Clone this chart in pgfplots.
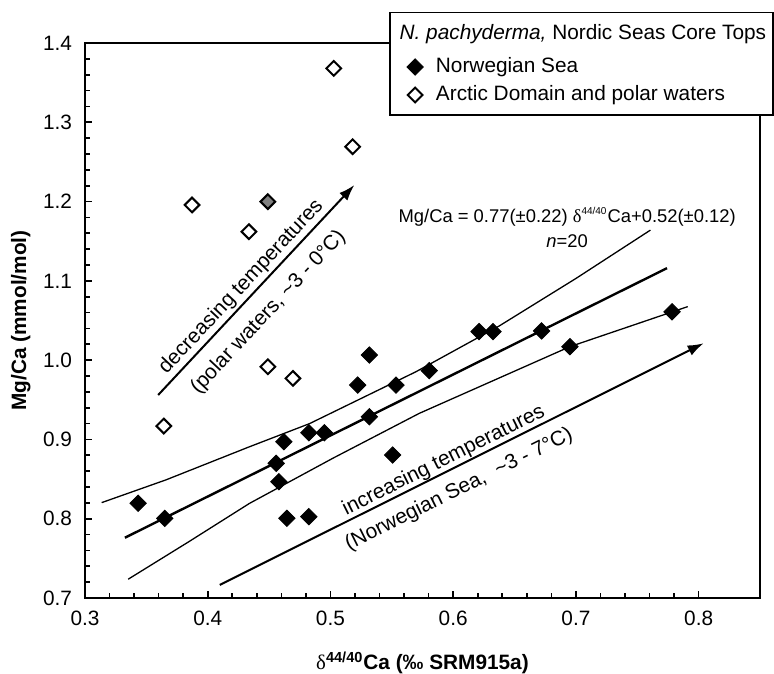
\documentclass[border=0pt]{standalone}
\usepackage{pgfplots}
\pgfplotsset{compat=1.18}
\usepackage{fontspec}
\setmainfont{Liberation Sans}
\newfontfamily\greekfont{Liberation Serif}
\usetikzlibrary{arrows.meta}

\newcommand{\fs}{\fontsize{10.4}{12.5}\selectfont}
\newcommand{\fsleg}{\fontsize{10.4}{12.5}\selectfont}
\newcommand{\fseq}{\fontsize{9.2}{11}\selectfont}

\pgfplotsset{
  diamleg/.style={legend image code/.code={%
      \draw[##1] plot coordinates {(0pt,0pt)};}},
}

\begin{document}
\begin{tikzpicture}
\path[use as bounding box] (-42.5pt,-37.5pt) rectangle (344.5pt,299pt);
\begin{axis}[
  scale only axis,
  width=337.5pt, height=277.5pt,
  xmin=0.3, xmax=0.85, ymin=0.7, ymax=1.4,
  xtick={0.3,0.4,0.5,0.6,0.7,0.8},
  ytick={0.7,0.8,0.9,1.0,1.1,1.2,1.3,1.4},
  minor x tick num=4, minor y tick num=4,
  xtick pos=left, ytick pos=left, tick align=inside,
  major tick length=3.5pt, minor tick length=2.5pt,
  every tick/.style={black, line width=0.8pt},
  axis line style={line width=1pt},
  axis on top=false,
  /pgf/number format/assume math mode=true,
  xticklabel style={/pgf/number format/fixed, /pgf/number format/fixed zerofill,
    /pgf/number format/precision=1, font=\fs, yshift=-3pt},
  yticklabel style={/pgf/number format/fixed, /pgf/number format/fixed zerofill,
    /pgf/number format/precision=1, font=\fs, xshift=-3pt},
  xlabel={{\mdseries\greekfont δ}\textsuperscript{44/40}Ca (‰ SRM915a)},
  ylabel={Mg/Ca (mmol/mol)},
  xlabel style={at={(axis description cs:0.5,-0.117)}, anchor=center, font=\fs\bfseries},
  ylabel style={at={(axis description cs:-0.095,0.5)}, anchor=center, font=\fs\bfseries},
  legend style={at={(axis description cs:0.4764,0.9315)}, anchor=west,
    draw=none, fill=none, font=\fsleg, inner sep=0pt,
    row sep=4pt, column sep=6.3pt,
    nodes={inner sep=0pt, text height=7.5pt, text depth=2.5pt}},
  legend cell align=left,
  clip=false,
]
% legend frame and heading
\draw[line width=0.6pt, fill=white]
  (axis description cs:0.4519,0.8703) rectangle (axis description cs:1.0193,1.0546);
\node[anchor=base west, font=\fsleg, inner sep=0pt] at (axis description cs:0.4656,1.0067)
  {\textit{N. pachyderma,} Nordic Seas Core Tops};

% confidence band, upper
\addplot[black, line width=0.65pt, forget plot] coordinates {
  (0.3136,0.8203) (0.3660,0.8490) (0.4341,0.8908) (0.4829,0.9199)
  (0.5697,0.9854) (0.6374,1.0430) (0.7000,1.1030) (0.7607,1.1640)
};
% confidence band, lower
\addplot[black, line width=0.65pt, forget plot] coordinates {
  (0.3352,0.7237) (0.3846,0.7710) (0.4341,0.8194) (0.5020,0.8763)
  (0.5724,0.9329) (0.6951,1.0170) (0.7911,1.0675)
};
% regression line
\addplot[black, line width=1.2pt, forget plot] coordinates {
  (0.3325,0.7760) (0.7742,1.1160)
};

% temperature arrows
\addplot[black, line width=1pt, -{Latex[length=8pt,width=5.5pt]}, forget plot]
  coordinates {(0.3596,0.9560) (0.5195,1.2209)};
\addplot[black, line width=1pt, -{Latex[length=8pt,width=5.5pt]}, forget plot]
  coordinates {(0.4098,0.7165) (0.8041,1.0213)};

% Norwegian Sea
\addplot[only marks, mark=square*, mark size=2.9pt,
  mark options={rotate=45, fill=black, draw=black}, diamleg] coordinates {
  (0.3433,0.8195) (0.3650,0.8005) (0.4558,0.8699) (0.4580,0.8467)
  (0.4620,0.8971) (0.4645,0.8005) (0.4824,0.9084) (0.4824,0.8026)
  (0.4951,0.9084) (0.5222,0.9686) (0.5317,1.0064) (0.5317,0.9286)
  (0.5507,0.8803) (0.5534,0.9686) (0.5805,0.9867) (0.6211,1.0360)
  (0.6325,1.0360) (0.6720,1.0368) (0.6951,1.0170) (0.7783,1.0610)
};
\addlegendentry{Norwegian Sea}

% Arctic Domain and polar waters
\addplot[only marks, mark=square*, mark size=2.6pt,
  mark options={rotate=45, fill=white, draw=black, line width=1pt}, diamleg] coordinates {
  (0.3642,0.9169) (0.3872,1.1957) (0.4336,1.1620) (0.4490,0.9917)
  (0.4694,0.9770) (0.5027,1.3680) (0.5181,1.2692)
};
\addlegendentry{Arctic Domain and polar waters}

% grey sample
\addplot[only marks, mark=square*, mark size=2.6pt,
  mark options={rotate=45, fill=gray, draw=black, line width=1pt}, forget plot]
  coordinates {(0.4490,1.1999)};

\node[font=\fseq] at (axis cs:0.6929,1.1808)
  {Mg/Ca = 0.77(±0.22) {\greekfont δ}\textsuperscript{\tiny 44/40}Ca+0.52(±0.12)};
\node[font=\fseq] at (axis cs:0.6929,1.1506) {\textit{n}=20};

\node[font=\fs, rotate=46.9] at (axis cs:0.4274,1.0922) {decreasing temperatures};
\node[font=\fs, rotate=46.9] at (axis cs:0.4494,1.0605) {(polar waters, \textasciitilde3 - 0°C)};
\node[font=\fs, rotate=26.5] at (axis cs:0.5924,0.8732) {increasing temperatures};
\node[font=\fs, rotate=26.5] at (axis cs:0.6048,0.8364) {(Norwegian Sea,\hspace{0.3em} \textasciitilde3 - 7°C)};
\end{axis}
\end{tikzpicture}
\end{document}
